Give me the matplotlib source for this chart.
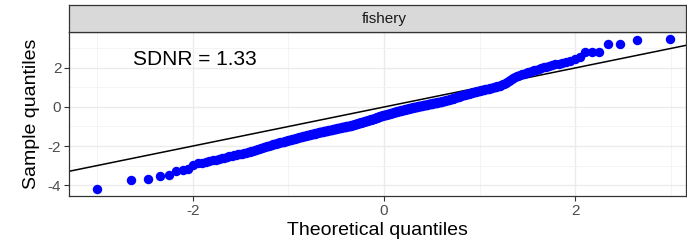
import matplotlib
matplotlib.use("Agg")
import matplotlib.pyplot as plt
from statistics import NormalDist

plt.rcParams["font.family"] = ["Liberation Sans", "DejaVu Sans"]
plt.rcParams["axes.unicode_minus"] = False

panel = "fishery"
sdnr = 1.33

# sorted standardised residuals (370 points)
sample = [
    -4.20, -3.76, -3.69, -3.52, -3.50, -3.28, -3.24, -3.20, -2.98, -2.89,
    -2.85, -2.81, -2.78, -2.74, -2.70, -2.67, -2.63, -2.59, -2.56, -2.52,
    -2.50, -2.48, -2.45, -2.43, -2.41, -2.39, -2.37, -2.34, -2.32, -2.30,
    -2.27, -2.25, -2.22, -2.19, -2.17, -2.14, -2.11, -2.08, -2.06, -2.03,
    -2.01, -1.99, -1.98, -1.96, -1.94, -1.92, -1.90, -1.89, -1.87, -1.85,
    -1.83, -1.82, -1.80, -1.79, -1.77, -1.76, -1.74, -1.73, -1.71, -1.70,
    -1.69, -1.67, -1.66, -1.64, -1.63, -1.62, -1.60, -1.59, -1.57, -1.56,
    -1.55, -1.54, -1.52, -1.51, -1.50, -1.49, -1.48, -1.46, -1.45, -1.44,
    -1.43, -1.42, -1.40, -1.39, -1.38, -1.37, -1.36, -1.34, -1.33, -1.32,
    -1.31, -1.30, -1.29, -1.28, -1.28, -1.27, -1.26, -1.25, -1.24, -1.23,
    -1.22, -1.21, -1.21, -1.20, -1.19, -1.18, -1.17, -1.17, -1.16, -1.15,
    -1.14, -1.13, -1.13, -1.12, -1.11, -1.10, -1.09, -1.09, -1.08, -1.07,
    -1.06, -1.05, -1.05, -1.04, -1.03, -1.02, -1.01, -1.01, -1.00, -0.99,
    -0.98, -0.97, -0.96, -0.95, -0.95, -0.94, -0.93, -0.92, -0.91, -0.90,
    -0.89, -0.88, -0.87, -0.86, -0.85, -0.84, -0.83, -0.82, -0.81, -0.80,
    -0.79, -0.78, -0.77, -0.76, -0.75, -0.74, -0.73, -0.72, -0.71, -0.70,
    -0.69, -0.68, -0.67, -0.66, -0.65, -0.63, -0.62, -0.61, -0.60, -0.59,
    -0.58, -0.57, -0.55, -0.54, -0.53, -0.52, -0.51, -0.49, -0.48, -0.47,
    -0.46, -0.45, -0.44, -0.43, -0.43, -0.42, -0.41, -0.40, -0.39, -0.38,
    -0.37, -0.36, -0.35, -0.34, -0.34, -0.33, -0.32, -0.31, -0.30, -0.29,
    -0.28, -0.27, -0.26, -0.25, -0.24, -0.23, -0.22, -0.21, -0.20, -0.19,
    -0.18, -0.17, -0.16, -0.15, -0.15, -0.14, -0.13, -0.12, -0.11, -0.10,
    -0.09, -0.08, -0.08, -0.07, -0.06, -0.05, -0.04, -0.04, -0.03, -0.02,
    -0.01, -0.01, 0.00, 0.01, 0.02, 0.02, 0.03, 0.04, 0.04, 0.05,
    0.06, 0.06, 0.07, 0.08, 0.09, 0.09, 0.10, 0.11, 0.11, 0.12,
    0.13, 0.14, 0.15, 0.16, 0.17, 0.17, 0.18, 0.19, 0.20, 0.21,
    0.22, 0.23, 0.23, 0.24, 0.25, 0.26, 0.27, 0.27, 0.28, 0.29,
    0.30, 0.31, 0.32, 0.33, 0.34, 0.35, 0.36, 0.37, 0.38, 0.39,
    0.40, 0.42, 0.43, 0.45, 0.46, 0.47, 0.49, 0.50, 0.52, 0.53,
    0.55, 0.56, 0.58, 0.59, 0.61, 0.62, 0.64, 0.65, 0.67, 0.68,
    0.69, 0.71, 0.72, 0.74, 0.75, 0.76, 0.78, 0.79, 0.81, 0.82,
    0.83, 0.84, 0.85, 0.86, 0.88, 0.89, 0.90, 0.91, 0.92, 0.93,
    0.95, 0.97, 0.98, 1.00, 1.02, 1.04, 1.06, 1.07, 1.09, 1.11,
    1.16, 1.20, 1.25, 1.30, 1.35, 1.39, 1.44, 1.49, 1.53, 1.58,
    1.61, 1.65, 1.68, 1.71, 1.75, 1.78, 1.81, 1.84, 1.88, 1.91,
    1.95, 1.99, 2.03, 2.07, 2.11, 2.15, 2.19, 2.23, 2.27, 2.31,
    2.37, 2.45, 2.55, 2.80, 2.80, 2.83, 3.22, 3.25, 3.42, 3.47,
]

# theoretical normal quantiles, as stat_qq does (ppoints)
n = len(sample)
nd = NormalDist()
theo = [nd.inv_cdf((i + 0.5) / n) for i in range(n)]

W, H = 687, 241
fig = plt.figure(figsize=(W / 100, H / 100), dpi=100)
L, R, T, B = 69, 686, 32, 196
ax = fig.add_axes([L / W, (H - B) / H, (R - L) / W, (B - T) / H])
st = fig.add_axes([L / W, (H - T) / H, (R - L) / W, 27 / H])

ax.set_xlim(-3.298, 3.162)
ax.set_ylim(-4.564, 3.846)
ax.set_xticks([-2, 0, 2])
ax.set_yticks([-4, -2, 0, 2])
ax.set_xticks([-3, -1, 1, 3], minor=True)
ax.set_yticks([-3, -1, 1, 3], minor=True)
ax.grid(which="major", color="#EBEBEB", lw=1.0)
ax.grid(which="minor", color="#F2F2F2", lw=0.6)
ax.set_axisbelow(True)
ax.tick_params(which="major", length=3.5, width=0.8, color="#333333",
               labelsize=11, labelcolor="#4D4D4D", pad=2)
ax.tick_params(which="minor", length=0)
for s in ax.spines.values():
    s.set_color("#333333"); s.set_linewidth(0.9)

ax.axline((0, 0), slope=1, color="black", lw=1.1, zorder=2)
ax.plot(theo, sample, "o", color="#0000FF", ms=6.8, mec="none", zorder=3)
ax.text(-1.98, 2.45, f"SDNR = {sdnr:.2f}", ha="center", va="center", fontsize=15)

ax.set_xlabel("Theoretical quantiles", fontsize=14, labelpad=3)
ax.set_ylabel("Sample quantiles", fontsize=14, labelpad=6)

st.set_xlim(ax.get_xlim()); st.set_ylim(0, 1)
st.set_facecolor("#D9D9D9")
st.set_xticks([]); st.set_yticks([])
for s in st.spines.values():
    s.set_color("#333333"); s.set_linewidth(0.9)
st.text(0, 0.5, panel, ha="center", va="center", fontsize=11, color="#1A1A1A")

fig.savefig("out.png", dpi=100)
